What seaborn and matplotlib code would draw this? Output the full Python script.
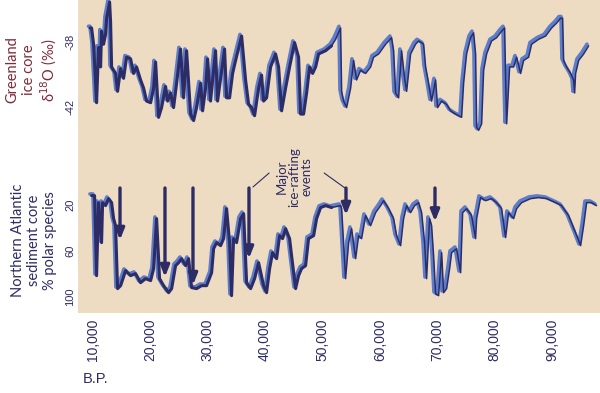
import matplotlib
matplotlib.use("Agg")  # no display

import matplotlib.pyplot as plt
import matplotlib.transforms as mtransforms
import pandas as pd
import seaborn as sns

# Greenland ice core, delta 18O (per mil) vs age B.P.
greenland_age = [
    9400, 9650, 10000, 10350, 10520, 10870, 11220, 11390, 11740, 12090,
    12270, 12790, 12960, 13140, 13830, 14180, 14710, 15230, 15750, 16450,
    16970, 17490, 18190, 18720, 19240, 19940, 20460, 20810, 21330, 21850,
    22550, 22900, 23420, 23940, 24470, 25160, 25690, 26210, 26910, 27430,
    27950, 28650, 29000, 29520, 29870, 30390, 30740, 31260, 31610, 32140,
    32830, 33180, 33700, 34230, 34750, 35800, 36490, 37020, 37540, 38060,
    38760, 39280, 39630, 40150, 40850, 41720, 42250, 42770, 43470, 44160,
    45030, 45730, 46080, 46600, 47130, 47650, 48170, 48700, 49220, 50440,
    51480, 52180, 53050,
    53230, 53580, 54100, 54800, 55320, 55840, 56540, 57410, 58280, 58800,
    59680, 60900, 61940, 62290, 62640, 63160, 63680, 64210, 64560, 65250,
    66120, 66650, 67520, 67870, 68390, 68910, 69610, 69960, 70660, 71530,
    72230, 73100, 74140, 74490, 75010, 75710, 76230, 76580, 76760, 77110,
    77630, 77980, 78500, 79370, 80240, 81110, 81640, 81810, 81990, 82510,
    83210, 83730, 84430, 84950, 85820, 86340, 87560, 88780, 89830, 90700,
    91400, 91750, 91920, 92440, 93140, 93660, 93840, 94010, 94540, 95410,
    96280,
]
greenland_d18o = [
    -37.1, -37.1, -38.1, -40.5, -41.7, -38.3, -39.5, -37.3, -38.1, -37.5,
    -36.5, -35.5, -36.7, -39.5, -39.9, -41.0, -39.6, -40.2, -38.9, -39.0,
    -39.9, -39.5, -40.3, -40.8, -41.6, -41.7, -40.8, -39.2, -42.6, -42.0,
    -40.7, -41.6, -41.1, -42.0, -40.5, -38.4, -41.4, -38.5, -42.4, -42.8,
    -42.0, -40.5, -42.2, -40.8, -39.0, -41.6, -40.3, -38.5, -41.6, -40.2,
    -38.4, -41.4, -41.4, -39.9, -39.1, -37.6, -40.3, -41.8, -42.0, -42.5,
    -40.8, -40.0, -41.6, -41.4, -39.5, -38.7, -39.5, -42.2, -40.8, -39.5,
    -38.0, -38.9, -42.4, -42.4, -41.1, -39.5, -39.9, -39.5, -38.7, -38.5,
    -38.2, -37.8, -37.1,
    -41.0, -41.6, -42.0, -40.8, -39.1, -40.3, -39.7, -39.9, -39.5, -38.9,
    -38.7, -38.1, -37.7, -38.5, -41.1, -41.4, -38.5, -40.2, -41.0, -38.7,
    -38.1, -37.9, -38.1, -39.5, -40.5, -41.6, -40.3, -42.0, -41.6, -41.8,
    -42.2, -42.4, -42.6, -40.5, -38.7, -37.7, -37.4, -38.7, -43.2, -43.4,
    -43.0, -39.7, -38.7, -37.9, -37.7, -37.3, -37.1, -40.2, -43.0, -39.5,
    -39.5, -38.9, -39.9, -39.1, -38.9, -38.1, -37.8, -37.6, -37.1, -36.8,
    -36.5, -36.5, -39.1, -39.5, -39.9, -40.3, -41.1, -39.9, -39.1, -38.7,
    -38.2,
]

# North Atlantic sediment core, % polar species vs age B.P.
sediment_age = [
    9650, 10170, 10520, 10870, 11390, 11570, 12090, 12610, 13140, 13490,
    13830, 14180, 14710, 15580, 16450, 17320, 18190, 19060, 19940, 20460,
    20980, 21500, 22200, 23070, 23600, 24290, 24820, 25340, 26040, 26560,
    27080, 27950, 28820, 29700, 30570, 30920, 31440, 32140, 32660, 33180,
    33700, 34050, 34400, 34920, 35620, 36150, 36670, 37370, 38060, 38760,
    39630, 40150, 40680, 41200, 41900, 42420, 42940, 43470, 44160, 44510,
    45210, 45730, 46250, 46950, 47470, 48350, 48870, 49570, 50440, 51480,
    53050, 53230, 53920, 54450, 54970, 55670, 56190, 56710, 57410, 58280,
    59150, 60020, 60550, 61420, 62290, 62810, 63510, 64030, 64560, 65250,
    65950, 66650, 67170, 67690, 68040, 68560, 68910, 69260, 69610, 70130,
    70660, 71010, 71530, 72050, 72400, 73270, 73970, 74320, 75010, 75890,
    76580, 76760, 77450, 78330, 79370, 80240, 81110, 81810, 82330, 83210,
    83730, 84600, 86170, 87560, 88960, 90530, 91570, 92790, 94010, 94880,
    95410, 95930, 96800, 97670,
]
sediment_pct = [
    11.3, 11.3, 80.9, 17.4, 52.2, 17.4, 20.0, 13.9, 17.4, 31.3,
    37.4, 92.2, 89.6, 76.5, 80.9, 79.1, 87.0, 83.5, 85.2, 74.8,
    31.3, 83.5, 89.6, 95.7, 92.2, 72.2, 69.6, 66.1, 72.2, 66.1,
    91.3, 92.2, 89.6, 89.6, 78.3, 57.4, 52.2, 54.8, 48.7, 22.6,
    52.2, 98.3, 48.7, 52.2, 31.3, 27.0, 87.0, 92.2, 83.5, 69.6,
    89.6, 95.7, 74.8, 60.9, 66.1, 46.1, 48.7, 40.0, 48.7, 63.5,
    92.2, 80.9, 74.8, 72.2, 48.7, 46.1, 31.3, 21.7, 20.0, 21.7,
    20.0, 22.6, 83.5, 52.2, 40.0, 66.1, 46.1, 48.7, 28.7, 37.4,
    26.1, 20.0, 15.7, 22.6, 31.3, 46.1, 54.8, 31.3, 20.0, 26.1,
    20.0, 17.4, 26.1, 52.2, 83.5, 31.3, 37.4, 63.5, 96.5, 98.3,
    60.9, 95.7, 92.2, 74.8, 60.9, 57.4, 78.3, 26.1, 22.6, 28.7,
    48.7, 31.3, 13.0, 15.7, 13.9, 17.4, 22.6, 47.8, 26.1, 31.3,
    22.6, 17.4, 13.9, 13.0, 13.9, 17.4, 20.0, 28.7, 43.5, 54.8,
    37.4, 17.4, 17.4, 20.0,
]

# major ice-rafting events: age, arrow tip (% polar species)
event_age = [14710, 22550, 27430, 37190, 54100, 69610]
event_tip = [50.4, 82.6, 89.6, 66.5, 28.7, 34.3]

x_ticks = [10000, 20000, 30000, 40000, 50000, 60000, 70000, 80000, 90000]
x_tick_labels = ["10,000", "20,000", "30,000", "40,000", "50,000",
                 "60,000", "70,000", "80,000", "90,000"]

BG = "#eddcc1"
NAVY = "#2e2c64"
LIGHT = "#5b7dcc"
MAROON = "#7e2b3b"
SPLIT = 50000  # older part of the record is drawn lighter

sns.set_theme(style="white")
plt.rcParams["font.family"] = ["Liberation Sans", "DejaVu Sans"]


def draw_series(fig, ax, df, x, y):
    px = 1 / 72 * 0.75
    sns.lineplot(data=df, x=x, y=y, ax=ax, color=LIGHT, lw=2.6,
                 sort=False, estimator=None)
    ax.lines[-1].set_transform(
        ax.transData + mtransforms.ScaledTranslation(-px, px, fig.dpi_scale_trans))
    young = df[df[x] <= SPLIT + 1500]
    old = df[df[x] >= SPLIT - 1500]
    for part, lw in ((young, 2.2), (old, 1.1)):
        sns.lineplot(data=part, x=x, y=y, ax=ax, color=NAVY, lw=lw,
                     sort=False, estimator=None)
        ax.lines[-1].set_transform(
            ax.transData + mtransforms.ScaledTranslation(px * 0.6, -px * 0.6,
                                                         fig.dpi_scale_trans))


def style_axis(ax):
    ax.set_facecolor(BG)
    for s in ax.spines.values():
        s.set_visible(False)
    ax.set_xlim(7390, 98370)
    ax.set_xlabel("")
    ax.set_ylabel("")
    ax.tick_params(length=0, colors=NAVY)


fig = plt.figure(figsize=(6, 3.93), dpi=100)
ax_top = fig.add_axes([0.13, 0.631, 0.87, 0.369])
ax_bot = fig.add_axes([0.13, 0.2036, 0.87, 0.4275])

green = pd.DataFrame({"age": greenland_age, "d18o": greenland_d18o})
sed = pd.DataFrame({"age": sediment_age, "pct": sediment_pct})

draw_series(fig, ax_top, green, "age", "d18o")
draw_series(fig, ax_bot, sed, "age", "pct")

style_axis(ax_top)
ax_top.set_ylim(-44.34, -35.42)
ax_top.set_xticks([])
ax_top.set_yticks([-38, -42])
ax_top.set_yticklabels(["-38", "-42"], rotation=90, va="center", fontsize=8)
ax_top.tick_params(axis="y", pad=2)

style_axis(ax_bot)
ax_bot.set_ylim(113.9, -32.2)
ax_bot.set_yticks([20, 60, 100])
ax_bot.set_yticklabels(["20", "60", "100"], rotation=90, va="center", fontsize=8)
ax_bot.tick_params(axis="y", pad=2)
ax_bot.set_xticks(x_ticks)
ax_bot.set_xticklabels(x_tick_labels, rotation=90, fontsize=10)
ax_bot.tick_params(axis="x", pad=4)

# ice-rafting arrows
for age, tip in zip(event_age, event_tip):
    ax_bot.annotate("", xy=(age, tip), xytext=(age, 5.2),
                    arrowprops=dict(arrowstyle="-|>,head_width=0.22,head_length=0.55",
                                    lw=2.4, color=NAVY, shrinkA=0, shrinkB=0))

ax_bot.text(45000, -4.3, "Major\nice-rafting\nevents", rotation=90,
            ha="center", va="center", fontsize=9.5, color=NAVY,
            linespacing=1.05, family="Lato")
ax_bot.plot([37890, 40700], [4.3, -7.8], color=NAVY, lw=0.8)
ax_bot.plot([53920, 50300], [5.2, -7.8], color=NAVY, lw=0.8)

fig.text(0.054, 0.822, "Greenland\nice core\nδ$^{18}$O (‰)", rotation=90,
         ha="center", va="center", fontsize=10.5, color=MAROON,
         linespacing=1.2, family="Lato")
fig.text(0.057, 0.389, "Northern Atlantic\nsediment core\n% polar species",
         rotation=90, ha="center", va="center", fontsize=10.5, color=NAVY,
         linespacing=1.2, family="Lato")
fig.text(0.138, 0.036, "B.P.", ha="left", va="center", fontsize=10.5, color=NAVY)

fig.savefig("out.png", dpi=100, facecolor="white")
